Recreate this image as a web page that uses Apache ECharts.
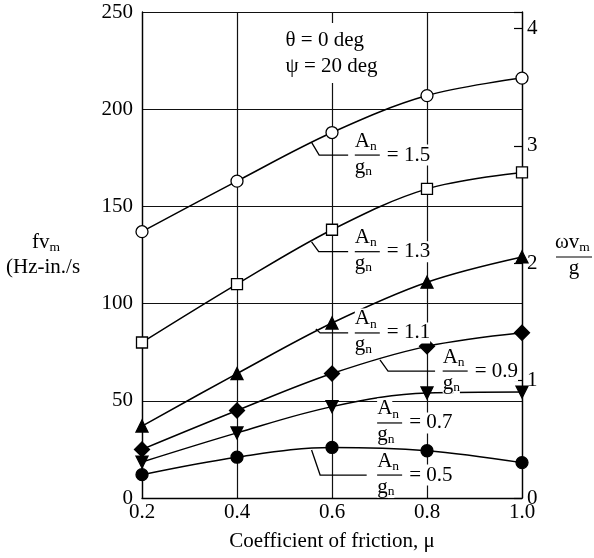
<!DOCTYPE html>
<html><head><meta charset="utf-8">
<script src="https://cdn.jsdelivr.net/npm/echarts@6/dist/echarts.min.js"></script>
<style>html,body{margin:0;padding:0;background:#fff}#c{width:594px;height:558px}</style>
</head><body><div id="c"></div>
<script>
// ---- data ----
const muValues = [0.2, 0.4, 0.6, 0.8, 1.0];
const xTicks = ['0.2', '0.4', '0.6', '0.8', '1.0'];
const leftTicks = ['0', '50', '100', '150', '200', '250'];
const rightTicks = ['0', '1', '2', '3', '4'];
const ratioLabels = ['1.5', '1.3', '1.1', '0.9', '0.7', '0.5'];
const fv15 = [137, 163, 188, 207, 216];
const fv13 = [80, 110, 138, 159, 167.5];
const fv11 = [37, 64, 90, 111, 124];
const fv09 = [25, 45, 64, 78, 85];
const fv07 = [18.5, 33.5, 47, 54, 54.5];
const fv05 = [12, 21, 26, 24.3, 18.2];
const leftMax = 250;
const rightMax = 4.14;   // ωv_m/g value at the top of the plot
const conditions = ['θ = 0 deg', 'ψ = 20 deg'];

// ---- annotation layout (data coordinates) ----
const barAnchors = [[0.648, 176.4], [0.648, 126.7], [0.648, 84.9], [0.833, 65.3], [0.695, 38.6], [0.695, 11.8]];
const leaderPaths = [
  [[0.557, 182.9], [0.573, 176.4], [0.634, 176.4]],
  [[0.557, 131.7], [0.572, 126.7], [0.634, 126.7]],
  [[0.566, 86.9], [0.575, 84.9], [0.634, 84.9]],
  [[0.701, 71.0], [0.718, 65.3], [0.817, 65.3]],
  [],
  [[0.557, 24.7], [0.575, 11.8], [0.673, 11.8]]
];
const condAnchor = [0.498, 235.6];

const FF = '"Liberation Serif", "Times New Roman", serif';
const FS = 21, SUB = 13.5;
const seriesDefs = [
  { data: fv15, symbol: 'circle', size: 12, fill: '#fff' },
  { data: fv13, symbol: 'rect', size: 11, fill: '#fff' },
  { data: fv11, symbol: 'triangle', size: 12, fill: '#000' },
  { data: fv09, symbol: 'diamond', size: 15, fill: '#000' },
  { data: fv07, symbol: 'triangle', size: 12, fill: '#000', rotate: 180 },
  { data: fv05, symbol: 'circle', size: 12, fill: '#000' }
];

const chart = echarts.init(document.getElementById('c'), null, { renderer: 'canvas' });
const txt = { color: '#000', fontFamily: FF, fontSize: FS };
chart.setOption({
  animation: false,
  backgroundColor: '#fff',
  grid: { left: 142, right: 72, top: 12, bottom: 60, containLabel: false },
  xAxis: {
    type: 'value', min: 0.2, max: 1.0, interval: 0.2,
    axisLine: { lineStyle: { color: '#000', width: 1.3 } },
    axisTick: { show: false },
    splitLine: { show: true, lineStyle: { color: '#111', width: 1.2 } },
    axisLabel: Object.assign({ margin: 4, formatter: v => xTicks[Math.round((v - 0.2) / 0.2)] }, txt),
    name: 'Coefficient of friction, μ', nameLocation: 'middle', nameGap: 33,
    nameTextStyle: txt
  },
  yAxis: [{
    type: 'value', min: 0, max: leftMax, interval: 50, position: 'left',
    axisLine: { show: true, lineStyle: { color: '#000', width: 1.3 } },
    axisTick: { show: false },
    splitLine: { show: true, lineStyle: { color: '#111', width: 1.2 } },
    axisLabel: Object.assign({ margin: 9, formatter: v => leftTicks[Math.round(v / 50)] }, txt)
  }, {
    type: 'value', min: 0, max: rightMax, interval: 1, position: 'right',
    axisLine: { show: true, lineStyle: { color: '#000', width: 1.3 } },
    axisTick: { show: true, inside: true, length: 8, lineStyle: { color: '#000', width: 1.2 } },
    splitLine: { show: false },
    axisLabel: Object.assign({ margin: 5, formatter: v => (Math.abs(v - Math.round(v)) < 1e-6 ? rightTicks[Math.round(v)] : '') }, txt)
  }],
  series: seriesDefs.map((s, k) => ({
    type: 'line', name: ratioLabels[k], yAxisIndex: 0,
    data: muValues.map((m, i) => [m, s.data[i]]),
    smooth: 0.35, symbol: s.symbol, symbolSize: s.size, symbolRotate: s.rotate || 0,
    showSymbol: true, silent: true, z: 3,
    lineStyle: { color: '#000', width: 1.5 },
    itemStyle: { color: s.fill, borderColor: '#000', borderWidth: 1.3, opacity: 1 }
  }))
});

// ---- annotations ----
const cv = document.createElement('canvas').getContext('2d');
function w(t, size) { cv.font = size + 'px ' + FF; return cv.measureText(t).width; }
function T(text, x, y, size, extra) {
  return {
    type: 'text', z: 100, x: x, y: y,
    style: Object.assign({ text: text, fontSize: size, fontFamily: FF, fill: '#000', align: 'left', verticalAlign: 'middle', backgroundColor: '#fff' }, extra || {})
  };
}
const P = p => chart.convertToPixel({ xAxisIndex: 0, yAxisIndex: 0 }, p);
const g = [];
ratioLabels.forEach((lab, k) => {
  const path = leaderPaths[k];
  if (path.length > 1) {
    g.push({ type: 'polyline', z: 90, shape: { points: path.map(P) }, style: { stroke: '#000', lineWidth: 1.3, fill: null } });
  }
  const [bx, by] = P(barAnchors[k]);
  g.push({ type: 'rect', z: 99, shape: { x: bx, y: by - 3, width: 26, height: 6 }, style: { fill: '#fff' } });
  g.push({ type: 'line', z: 101, shape: { x1: bx, y1: by, x2: bx + 25, y2: by }, style: { stroke: '#000', lineWidth: 1.2 } });
  const aW = w('A', FS);
  g.push(T('A', bx, by - 14, FS));
  g.push(T('n', bx + aW, by - 9, SUB));
  const gW = w('g', FS);
  g.push(T('g', bx, by + 12, FS));
  g.push(T('n', bx + gW, by + 16, SUB));
  g.push(T('= ' + lab, bx + 32, by, FS));
});
// conditions text
const [cx, cy] = P(condAnchor);
g.push(T(conditions[0] + '\n' + conditions[1], cx, cy + 13, FS, { lineHeight: 26, padding: [0, 2, 8, 2] }));
// left axis title
const fvW = w('fv', FS);
g.push(T('fv', 32, 242, FS, { backgroundColor: null }));
g.push(T('m', 32 + fvW, 247, SUB, { backgroundColor: null }));
g.push(T('(Hz-in./s', 6, 267, FS, { backgroundColor: null }));
// right axis title
const ovW = w('ωv', FS);
g.push(T('ωv', 555, 242, FS, { backgroundColor: null }));
g.push(T('m', 555 + ovW, 247, SUB, { backgroundColor: null }));
g.push({ type: 'line', z: 101, shape: { x1: 556, y1: 257, x2: 592, y2: 257 }, style: { stroke: '#000', lineWidth: 1.2 } });
g.push(T('g', 574, 268, FS, { align: 'center', backgroundColor: null }));
chart.setOption({ graphic: g });
</script>
</body></html>
